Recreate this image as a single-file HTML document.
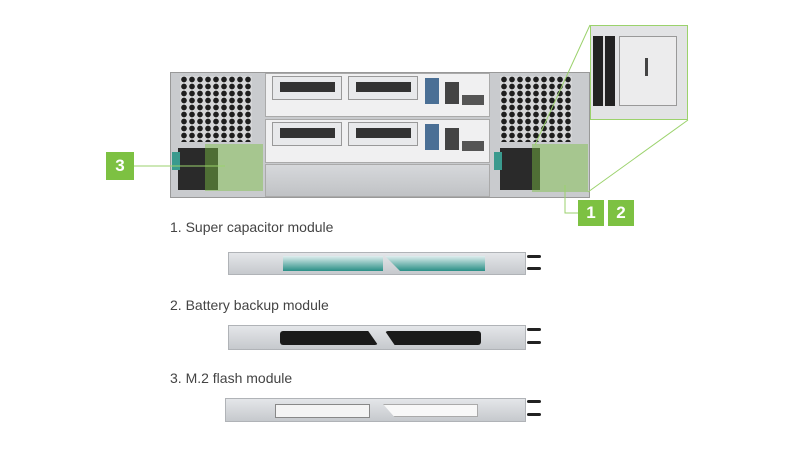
<!DOCTYPE html>
<html><head><style>
body{margin:0;width:795px;height:450px;background:#fff;position:relative;overflow:hidden;font-family:"Liberation Sans",sans-serif}
div{position:absolute;box-sizing:border-box}
.t{font-size:14px;color:#444;left:170px}
.fan{background-color:#d4d5d7;background-image:radial-gradient(circle,#1e1e1e 2.6px,transparent 3px);background-size:8px 7px}
.num{background:#7dc142;color:#fff;font-size:17px;font-weight:bold;text-align:center;line-height:26px;width:26px;height:26px}
.mod{background:linear-gradient(#e4e6e9,#c6c9cd);border:1px solid #b0b3b7}
.pin{background:#222;height:3px;width:14px;border-radius:2px}
.card{background:#e8e9eb;border:1px solid #999}
.sfp{background:#333;height:10px}
</style></head><body>
<div style="left:170px;top:72px;width:420px;height:126px;background:#c9cbce;border:1px solid #999"></div>
<div class="fan" style="left:180px;top:76px;width:72px;height:66px"></div>
<div class="fan" style="left:500px;top:76px;width:72px;height:66px"></div>
<div style="left:265px;top:73px;width:225px;height:44px;background:#f0f0f1;border:1px solid #aaa"></div>
<div style="left:265px;top:119px;width:225px;height:44px;background:#f0f0f1;border:1px solid #aaa"></div>
<div style="left:265px;top:164px;width:225px;height:33px;background:linear-gradient(#d6d8db,#c0c2c5);border:1px solid #aaa"></div>
<div class="card" style="left:272px;top:76px;width:70px;height:24px"></div>
<div class="card" style="left:348px;top:76px;width:70px;height:24px"></div>
<div class="card" style="left:272px;top:122px;width:70px;height:24px"></div>
<div class="card" style="left:348px;top:122px;width:70px;height:24px"></div>
<div class="sfp" style="left:280px;top:82px;width:55px"></div>
<div class="sfp" style="left:356px;top:82px;width:55px"></div>
<div class="sfp" style="left:280px;top:128px;width:55px"></div>
<div class="sfp" style="left:356px;top:128px;width:55px"></div>
<div style="left:425px;top:78px;width:14px;height:26px;background:#4a6f95"></div>
<div style="left:425px;top:124px;width:14px;height:26px;background:#4a6f95"></div>
<div style="left:445px;top:82px;width:14px;height:22px;background:#444"></div>
<div style="left:445px;top:128px;width:14px;height:22px;background:#444"></div>
<div style="left:462px;top:95px;width:22px;height:10px;background:#555"></div>
<div style="left:462px;top:141px;width:22px;height:10px;background:#555"></div>
<div style="left:178px;top:148px;width:40px;height:42px;background:#2a2a2a"></div>
<div style="left:500px;top:148px;width:40px;height:42px;background:#2a2a2a"></div>
<div style="left:172px;top:152px;width:8px;height:18px;background:#3a9a8e"></div>
<div style="left:494px;top:152px;width:8px;height:18px;background:#3a9a8e"></div>
<div style="left:205px;top:144px;width:58px;height:47px;background:rgba(125,193,66,.45)"></div>
<div style="left:532px;top:144px;width:56px;height:48px;background:rgba(125,193,66,.45)"></div>
<div style="left:590px;top:25px;width:98px;height:95px;background:#e2e3e5;border:1px solid #9bd26c;overflow:hidden">
 <div style="left:2px;top:10px;width:22px;height:70px;background:#222;background-image:linear-gradient(90deg,transparent 10px,#ddd 10px,#ddd 12px,transparent 12px)"></div>
 <div style="left:28px;top:10px;width:58px;height:70px;background:#ececed;border:1px solid #999"></div>
 <div style="left:54px;top:32px;width:3px;height:18px;background:#444"></div>
</div>
<svg style="position:absolute;left:0;top:0" width="795" height="450">
 <line x1="590" y1="25" x2="535" y2="145" stroke="#9bd26c"/>
 <line x1="688" y1="120" x2="588" y2="192" stroke="#9bd26c"/>
 <line x1="132" y1="166" x2="225" y2="166" stroke="#9bd26c"/>
 <polyline points="565,185 565,213 578,213" fill="none" stroke="#9bd26c"/>
</svg>
<div class="num" style="left:106px;top:152px;width:28px;height:28px;line-height:28px">3</div>
<div class="num" style="left:578px;top:200px">1</div>
<div class="num" style="left:608px;top:200px">2</div>
<div class="t" style="top:219px">1. Super capacitor module</div>
<div class="mod" style="left:228px;top:252px;width:298px;height:23px"></div>
<div style="left:283px;top:256px;width:100px;height:15px;background:linear-gradient(#dfeeee,#2a8f86)"></div>
<div style="left:385px;top:256px;width:100px;height:15px;background:linear-gradient(#dfeeee,#2a8f86);clip-path:polygon(0 0,100% 0,100% 100%,15% 100%)"></div>
<div class="pin" style="left:527px;top:255px"></div><div class="pin" style="left:527px;top:267px"></div>
<div class="t" style="top:297px">2. Battery backup module</div>
<div class="mod" style="left:228px;top:325px;width:298px;height:25px"></div>
<div style="left:280px;top:331px;width:98px;height:14px;background:#1a1a1a;clip-path:polygon(0 0,90% 0,100% 100%,0 100%);border-radius:3px"></div>
<div style="left:385px;top:331px;width:96px;height:14px;background:#1a1a1a;clip-path:polygon(0 0,100% 0,100% 100%,10% 100%);border-radius:3px"></div>
<div class="pin" style="left:527px;top:328px"></div><div class="pin" style="left:527px;top:341px"></div>
<div class="t" style="top:370px">3. M.2 flash module</div>
<div class="mod" style="left:225px;top:398px;width:301px;height:24px"></div>
<div style="left:275px;top:404px;width:95px;height:14px;background:#f4f4f4;border:1px solid #888"></div>
<div style="left:383px;top:404px;width:95px;height:13px;background:#f8f8f8;border:1px solid #aaa;clip-path:polygon(0 0,100% 0,100% 100%,12% 100%)"></div>
<div class="pin" style="left:527px;top:400px"></div><div class="pin" style="left:527px;top:413px"></div>
</body></html>
